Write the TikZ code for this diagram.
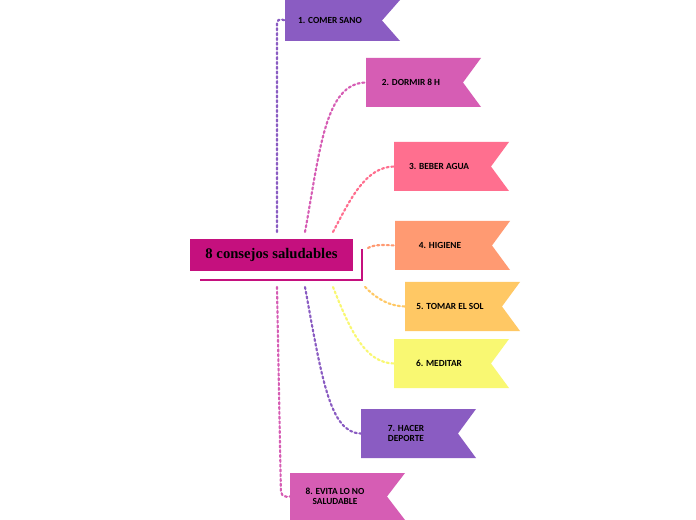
\documentclass[tikz,border=0pt]{standalone}
\usepackage{fontspec}
\setmainfont{Carlito}
\newfontfamily\titlefont{Liberation Serif}
\definecolor{cpurple}{HTML}{8A5CC2}
\definecolor{cpink}{HTML}{D65DB4}
\definecolor{crose}{HTML}{FF6F8F}
\definecolor{corange}{HTML}{FF9A72}
\definecolor{cyellow}{HTML}{FFC864}
\definecolor{clemon}{HTML}{F9F872}
\definecolor{cmain}{HTML}{C5107E}
\tikzset{
  flagtext/.style={font=\bfseries\fontsize{7}{7.5}\selectfont, align=center, text=black},
  conn/.style={line width=1.6pt, dotted, line cap=round},
}
\newcommand{\flagbox}[6]{% name x y h color text
  \fill[#5] (#2,#3) -- ++(115,0) -- ++(-18,#4/2) -- ++(18,#4/2) -- ++(-115,0) -- cycle;
  \coordinate (#1) at (#2,#3+#4/2);
  \node[flagtext] (#1t) at (#2+45,#3+#4/2) {#6};
}
\begin{document}
\begin{tikzpicture}[x=0.75pt,y=-0.75pt]
\useasboundingbox (0,0) rectangle (696,520);
\fill[white] (0,0) rectangle (696,520);
\flagbox{f1}{285}{0}{41}{cpurple}{1. COMER SANO}
\flagbox{f2}{366}{58}{49}{cpink}{2. DORMIR 8 H}
\flagbox{f3}{394}{142}{49}{crose}{3. BEBER AGUA}
\flagbox{f4}{395}{221}{49}{corange}{4. HIGIENE}
\flagbox{f5}{405}{282}{49}{cyellow}{5. TOMAR EL SOL}
\flagbox{f6}{394}{339}{49}{clemon}{6. MEDITAR}
\flagbox{f7}{361}{409}{49}{cpurple}{7. HACER\\DEPORTE}
\flagbox{f8}{290}{473}{47}{cpink}{8. EVITA LO NO\\SALUDABLE}
\node[fill=cmain, minimum width=122pt, minimum height=24pt, inner sep=0pt,
  font=\titlefont\bfseries\fontsize{11}{12}\selectfont, text=black] (c) at (271.5,255) {8 consejos saludables};
\draw[cmain, line width=2.2pt] (362,249) -- (362,280) -- (200,280);
\coordinate (a1) at (277,232);
\coordinate (a2) at (305,232);
\coordinate (a3) at (333,232);
\coordinate (a4) at (368,248);
\coordinate (a5) at (365,287);
\coordinate (a6) at (333,287);
\coordinate (a7) at (305,287);
\coordinate (a8) at (277,287);
\draw[conn, cpurple, rounded corners=4pt] (a1) -- (277,18) -- (f1);
\draw[conn, cpink] (a2) .. controls (320,150) and (325,83) .. (f2);
\draw[conn, crose] (a3) .. controls (350,200) and (365,167) .. (f3);
\draw[conn, corange] (a4) .. controls (375,244) and (385,245) .. (f4);
\draw[conn, cyellow] (a5) .. controls (378,300) and (390,306) .. (f5);
\draw[conn, clemon] (a6) .. controls (350,330) and (365,363) .. (f6);
\draw[conn, cpurple] (a7) .. controls (322,380) and (330,433) .. (f7);
\draw[conn, cpink, rounded corners=4pt] (a8) -- (281,497) -- (f8);
\end{tikzpicture}
\end{document}
